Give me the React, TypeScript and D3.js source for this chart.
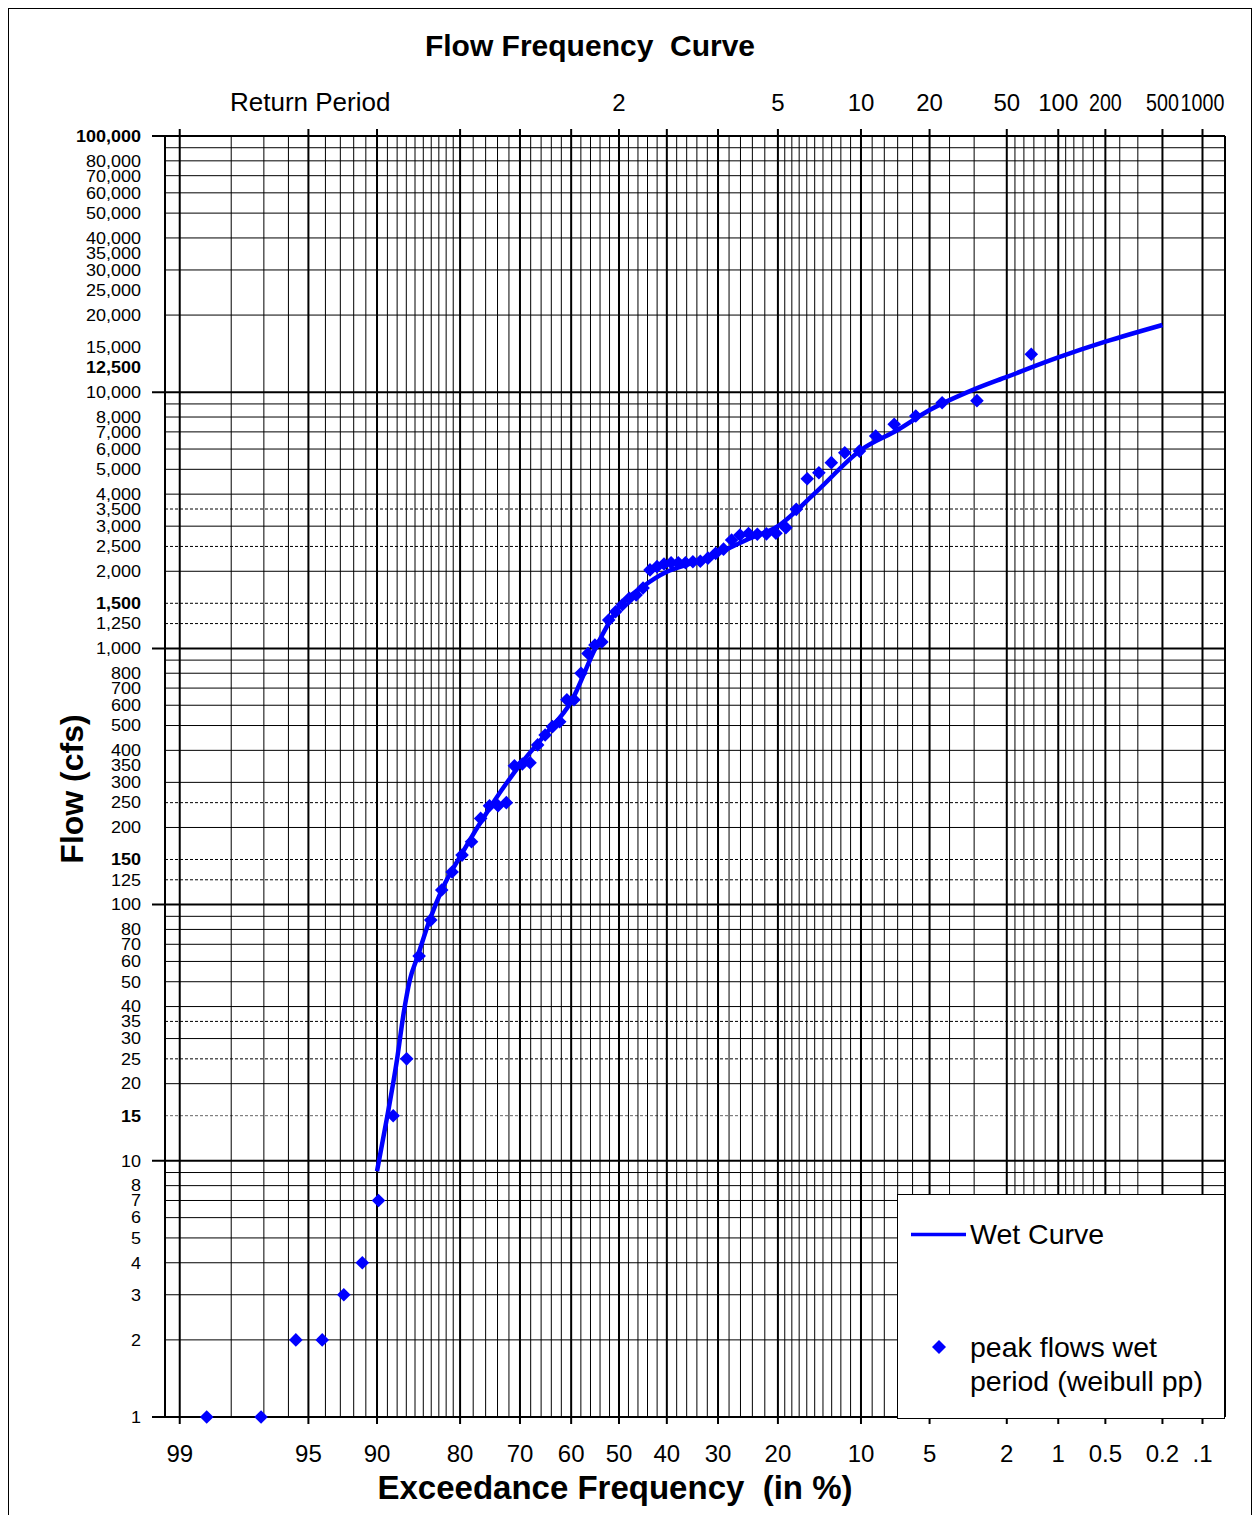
import React from 'react';
import * as d3 from 'd3';

// ---------- DATA ----------
// Weibull plotting positions (exceedance %)
const pointExceedance = [
  1.45, 2.9, 4.35, 5.8, 7.25, 8.7, 10.14, 11.59, 13.04, 14.49,
  15.94, 17.39, 18.84, 20.29, 21.74, 23.19, 24.64, 26.09, 27.54, 28.99,
  30.43, 31.88, 33.33, 34.78, 36.23, 37.68, 39.13, 40.58, 42.03, 43.48,
  44.93, 46.38, 47.83, 49.28, 50.72, 52.17, 53.62, 55.07, 56.52, 57.97,
  59.42, 60.87, 62.32, 63.77, 65.22, 66.67, 68.12, 69.57, 71.01, 72.46,
  73.91, 75.36, 76.81, 78.26, 79.71, 81.16, 82.61, 84.06, 85.51, 86.96,
  88.41, 89.86, 91.3, 92.75, 94.2, 95.65, 97.1, 98.55,
];
const peakFlows = [
  14060, 9270, 9100, 8075, 7495, 6745, 5890, 5805, 5310, 4850,
  4595, 3490, 2960, 2815, 2800, 2790, 2810, 2770, 2650, 2440,
  2350, 2250, 2190, 2180, 2160, 2160, 2160, 2135, 2085, 2025,
  1720, 1615, 1570, 1480, 1390, 1290, 1060, 1030, 955, 800,
  630, 630, 517, 495, 459, 420, 358, 354, 348, 250,
  243, 243, 217, 176, 156, 134, 114, 87, 63, 25,
  15, 7, 4, 3, 2, 2, 1, 1,
];
const curveExceedance = [90.0, 89.0, 88.0, 87.3, 86.6, 85.7, 84.2, 82.6, 80, 75, 70, 65, 60, 55, 50, 45, 40, 35, 30, 25, 20, 15, 10, 7, 5, 3, 2, 1, 0.5, 0.2];
const curveFlow = [9.1, 15, 25, 37.6, 50.8, 62.6, 87, 114, 154, 245, 351, 466, 620, 1000, 1450, 1740, 1990, 2150, 2350, 2650, 3000, 4030, 5950, 7120, 8515, 10260, 11480, 13670, 15740, 18290];

const majorPct = [99, 95, 90, 80, 70, 60, 50, 40, 30, 20, 10, 5, 2, 1, 0.5, 0.2, 0.1];
const majorPctLabels = ['99', '95', '90', '80', '70', '60', '50', '40', '30', '20', '10', '5', '2', '1', '0.5', '0.2', '.1'];
const minorPct = [
  98, 97, 96, 94, 93, 92, 91, 89, 88, 87, 86, 85, 84, 83, 82, 81,
  78, 76, 74, 72, 68, 66, 64, 62, 58, 56, 54, 52, 48, 46, 44, 42,
  38, 36, 34, 32, 28, 26, 24, 22, 19, 18, 17, 16, 15, 14, 13, 12, 11,
  9, 8, 7, 6, 4, 3, 1.8, 1.6, 1.4, 1.2, 0.9, 0.8, 0.7, 0.6, 0.4, 0.3,
];
const returnPeriods = [2, 5, 10, 20, 50, 100, 200, 500, 1000];
const condensedPeriods = [200, 500, 1000];

const yMajor = [1, 10, 100, 1000, 10000, 100000];
const yDecades = [1, 10, 100, 1000, 10000];
const yMultipliers = [2, 3, 4, 5, 6, 7, 8, 9];
const yDashed = [15, 25, 35, 125, 150, 250, 1250, 1500, 2500, 3500];
const yLabels = [
  100000, 80000, 70000, 60000, 50000, 40000, 35000, 30000, 25000, 20000, 15000, 12500, 10000,
  8000, 7000, 6000, 5000, 4000, 3500, 3000, 2500, 2000, 1500, 1250, 1000,
  800, 700, 600, 500, 400, 350, 300, 250, 200, 150, 125, 100,
  80, 70, 60, 50, 40, 35, 30, 25, 20, 15, 10, 8, 7, 6, 5, 4, 3, 2, 1,
];
const yBoldLabels = [100000, 12500, 1500, 150, 15];

const xDomainPct = [99.19, 0.0665];
const yDomain = [1, 100000];

// ---------- helpers ----------
function probit(p: number): number {
  const a = [-3.969683028665376e1, 2.209460984245205e2, -2.759285104469687e2, 1.38357751867269e2, -3.066479806614716e1, 2.506628277459239];
  const b = [-5.447609879822406e1, 1.615858368580409e2, -1.556989798598866e2, 6.680131188771972e1, -1.328068155288572e1];
  const c = [-7.784894002430293e-3, -3.223964580411365e-1, -2.400758277161838, -2.549732539343734, 4.374664141464968, 2.938163982698783];
  const d = [7.784695709041462e-3, 3.224671290700398e-1, 2.445134137142996, 3.754408287186041];
  const pl = 0.02425;
  let q: number, r: number;
  if (p < pl) {
    q = Math.sqrt(-2 * Math.log(p));
    return (((((c[0] * q + c[1]) * q + c[2]) * q + c[3]) * q + c[4]) * q + c[5]) / ((((d[0] * q + d[1]) * q + d[2]) * q + d[3]) * q + 1);
  }
  if (p <= 1 - pl) {
    q = p - 0.5;
    r = q * q;
    return ((((((a[0] * r + a[1]) * r + a[2]) * r + a[3]) * r + a[4]) * r + a[5]) * q) / (((((b[0] * r + b[1]) * r + b[2]) * r + b[3]) * r + b[4]) * r + 1);
  }
  q = Math.sqrt(-2 * Math.log(1 - p));
  return -(((((c[0] * q + c[1]) * q + c[2]) * q + c[3]) * q + c[4]) * q + c[5]) / ((((d[0] * q + d[1]) * q + d[2]) * q + d[3]) * q + 1);
}

const diamondPath = (r: number) => `M0,${-r}L${r},0L0,${r}L${-r},0Z`;

const X_LEFT = 165, X_RIGHT = 1225, Y_TOP = 136, Y_BOTTOM = 1417;
const FONT = '"Liberation Sans", Arial, Helvetica, sans-serif';
const BLUE = '#0000FF';

export default function App() {
  const zOf = (e: number) => probit(1 - e / 100);
  const zs = d3.scaleLinear().domain(xDomainPct.map(zOf)).range([X_LEFT, X_RIGHT]);
  const x = (e: number) => zs(zOf(e));
  const y = d3.scaleLog().domain(yDomain).range([Y_BOTTOM, Y_TOP]);
  const fmt = d3.format(',');

  const diamond = diamondPath(6.8);
  const legendDiamond = diamondPath(7);

  const curvePts: [number, number][] = curveExceedance.map((e, i) => [x(e), y(curveFlow[i])]);
  const linePath = d3.line().curve(d3.curveMonotoneX)(curvePts) as string;

  const minorY = yDecades.flatMap((dd) => yMultipliers.map((k) => dd * k));

  return (
    <svg width={1253} height={1515} style={{ position: 'absolute', left: 0, top: 0, background: '#fff' }} fontFamily={FONT}>
      <rect x={0} y={0} width={1253} height={1515} fill="#fff" />
      {/* outer chart border */}
      <rect x={8.5} y={8.5} width={1243} height={1530} fill="none" stroke="#000" strokeWidth={1} />

      {/* title */}
      <text x={590} y={56} textAnchor="middle" fontSize={30} fontWeight="bold" style={{ whiteSpace: 'pre' }}>{'Flow Frequency  Curve'}</text>

      {/* horizontal minor grid */}
      {minorY.map((v) => (
        <line key={'hm' + v} x1={X_LEFT} x2={X_RIGHT} y1={y(v)} y2={y(v)} stroke="#000" strokeWidth={1} />
      ))}
      {yDashed.map((v) => (
        <line key={'hd' + v} x1={X_LEFT} x2={X_RIGHT} y1={y(v)} y2={y(v)} stroke={v === 15 ? '#666' : '#000'} strokeWidth={1} strokeDasharray="3,2" />
      ))}
      {/* vertical minor grid */}
      {minorPct.map((e) => (
        <line key={'vm' + e} x1={x(e)} x2={x(e)} y1={Y_TOP} y2={Y_BOTTOM} stroke="#000" strokeWidth={1} />
      ))}
      {/* vertical major grid */}
      {majorPct.map((e) => (
        <line key={'vM' + e} x1={x(e)} x2={x(e)} y1={Y_TOP - 7} y2={Y_BOTTOM + 7} stroke="#000" strokeWidth={2} />
      ))}
      {/* horizontal major grid */}
      {yMajor.map((v) => (
        <line key={'hM' + v} x1={152} x2={X_RIGHT} y1={y(v)} y2={y(v)} stroke="#000" strokeWidth={2} />
      ))}
      {/* frame sides */}
      <line x1={X_LEFT} x2={X_LEFT} y1={Y_TOP} y2={Y_BOTTOM} stroke="#000" strokeWidth={2} />
      <line x1={X_RIGHT} x2={X_RIGHT} y1={Y_TOP} y2={Y_BOTTOM} stroke="#000" strokeWidth={2} />

      {/* y labels */}
      {yLabels.map((v) => (
        <text key={'yl' + v} transform={`translate(141,${y(v)}) scale(1.06,1)`} textAnchor="end" dominantBaseline="central"
          fontSize={17} fontWeight={yBoldLabels.includes(v) ? 'bold' : 'normal'}>{fmt(v)}</text>
      ))}

      {/* bottom x labels */}
      {majorPct.map((e, i) => (
        <text key={'xl' + e} x={x(e)} y={1462} textAnchor="middle" fontSize={24}>{majorPctLabels[i]}</text>
      ))}
      {/* top return period labels */}
      <text x={230} y={111} fontSize={26}>Return Period</text>
      {returnPeriods.map((t) => (
        <text key={'rp' + t} transform={`translate(${x(100 / t)},111) scale(${condensedPeriods.includes(t) ? 0.82 : 1},1)`} textAnchor="middle" fontSize={24}>{t}</text>
      ))}

      {/* axis titles */}
      <text x={615} y={1499} textAnchor="middle" fontSize={33} fontWeight="bold" style={{ whiteSpace: 'pre' }}>{'Exceedance Frequency  (in %)'}</text>
      <text transform="translate(83,789) rotate(-90)" textAnchor="middle" fontSize={32} fontWeight="bold">Flow (cfs)</text>

      {/* curve */}
      <path d={linePath} fill="none" stroke={BLUE} strokeWidth={4.5} strokeLinejoin="round" />
      {/* points */}
      {pointExceedance.map((e, i) => (
        <path key={'pt' + i} d={diamond} transform={`translate(${x(e)},${y(peakFlows[i])})`} fill={BLUE} />
      ))}

      {/* legend */}
      <rect x={897.5} y={1194.5} width={327} height={224} fill="#fff" stroke="#000" strokeWidth={1} />
      <line x1={911} x2={966} y1={1234.5} y2={1234.5} stroke={BLUE} strokeWidth={3.5} />
      <text x={970} y={1244} fontSize={28.5}>Wet Curve</text>
      <path d={legendDiamond} transform="translate(939,1347)" fill={BLUE} />
      <text x={970} y={1357} fontSize={28.5}>peak flows wet</text>
      <text x={970} y={1391} fontSize={28.5}>period (weibull pp)</text>
      <line x1={X_RIGHT} x2={X_RIGHT} y1={1194} y2={Y_BOTTOM} stroke="#000" strokeWidth={2} />
    </svg>
  );
}
